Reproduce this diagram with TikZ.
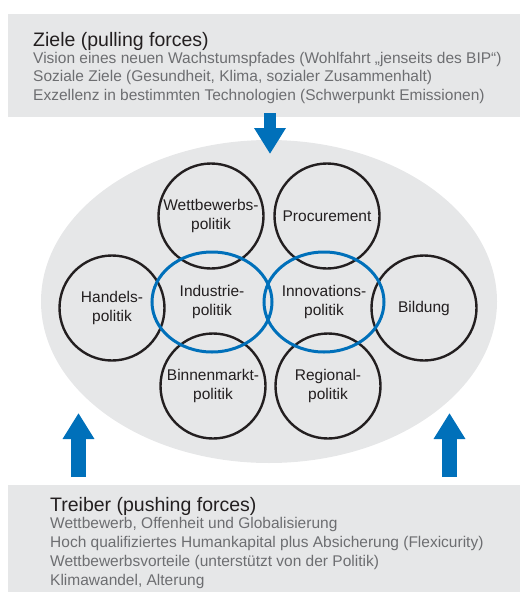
\documentclass[tikz,border=0pt]{standalone}
\usepackage{fontspec}
\setmainfont{Liberation Sans}
\usetikzlibrary{positioning,arrows.meta,shapes.geometric}
\definecolor{boxgray}{RGB}{230,231,232}
\definecolor{ringblue}{RGB}{0,112,186}
\definecolor{textgray}{RGB}{109,110,113}
\definecolor{inkdark}{RGB}{35,31,32}
\begin{document}
\begin{tikzpicture}[x=1pt,y=-1pt,
    panel/.style={fill=boxgray,draw=none,inner sep=0pt},
    heading/.style={anchor=base west,inner sep=0pt,text=inkdark,font=\fontsize{19.5}{22}\selectfont},
    item/.style={anchor=base west,inner sep=0pt,text=textgray,font=\fontsize{15.5}{18}\selectfont},
    field/.style={ellipse,fill=boxgray,minimum width=456pt,minimum height=323pt,inner sep=0pt},
    policy/.style={circle,draw=inkdark,line width=2.4pt,minimum size=105pt,inner sep=0pt,align=center,text=inkdark,font=\fontsize{15.5}{19}\selectfont},
    core/.style={ellipse,draw=ringblue,line width=3pt,minimum width=120pt,minimum height=100pt,inner sep=0pt,align=center,text=inkdark,font=\fontsize{15.5}{19}\selectfont},
    push/.style={draw=ringblue,line width=13pt,-{Triangle[width=30pt,length=26pt]}}]
    \useasboundingbox (0,0) rectangle (520,592);
    % Ziele oben
    \node[panel,minimum width=512pt,minimum height=103pt] (zieleBox) at (264,65.5) {};
    \node[heading] (zieleTitle) at (33,46) {Ziele (pulling forces)};
    \foreach \line [count=\i] in {{Vision eines neuen Wachstumspfades (Wohlfahrt „jenseits des BIP“)},
        {Soziale Ziele (Gesundheit, Klima, sozialer Zusammenhalt)},
        {Exzellenz in bestimmten Technologien (Schwerpunkt Emissionen)}}
        \node[item] (ziel\i) at (33,44.5+18.5*\i) {\line};
    % Politikfeld
    \node[field] (field) at (269,301.5) {};
    \node[policy] (wettbewerb)  at (211,216) {Wettbewerbs-\\politik};
    \node[policy] (procurement) at (327,216) {Procurement};
    \node[policy] (handel)      at (112,308) {Handels-\\politik};
    \node[policy] (bildung)     at (424,308) {Bildung};
    \node[policy] (binnenmarkt) at (213,386) {Binnenmarkt-\\politik};
    \node[policy] (regional)    at (328,386) {Regional-\\politik};
    \node[core]   (industrie)   at (212,302) {Industrie-\\politik};
    \node[core]   (innovation)  at (324,302) {Innovations-\\politik};
    % Treiber unten
    \node[panel,minimum width=512pt,minimum height=107pt] (treiberBox) at (264,538.5) {};
    \node[heading] (treiberTitle) at (50,511) {Treiber (pushing forces)};
    \foreach \line [count=\i] in {{Wettbewerb, Offenheit und Globalisierung},
        {Hoch qualifiziertes Humankapital plus Absicherung (Flexicurity)},
        {Wettbewerbsvorteile (unterstützt von der Politik)},
        {Klimawandel, Alterung}}
        \node[item] (treiber\i) at (50,510+18.8*\i) {\line};
    % Pfeile
    \coordinate (pullStart) at (270,113);
    \coordinate (pullEnd)   at (270,154);
    \coordinate (pushLeftStart)  at (78.5,477);
    \coordinate (pushLeftEnd)    at (78.5,413);
    \coordinate (pushRightStart) at (449.5,477);
    \coordinate (pushRightEnd)   at (449.5,413);
    \draw[push,line width=12pt] (pullStart) -- (pullEnd);
    \draw[push,line width=15pt] (pushLeftStart) -- (pushLeftEnd);
    \draw[push,line width=15pt] (pushRightStart) -- (pushRightEnd);
\end{tikzpicture}
\end{document}
